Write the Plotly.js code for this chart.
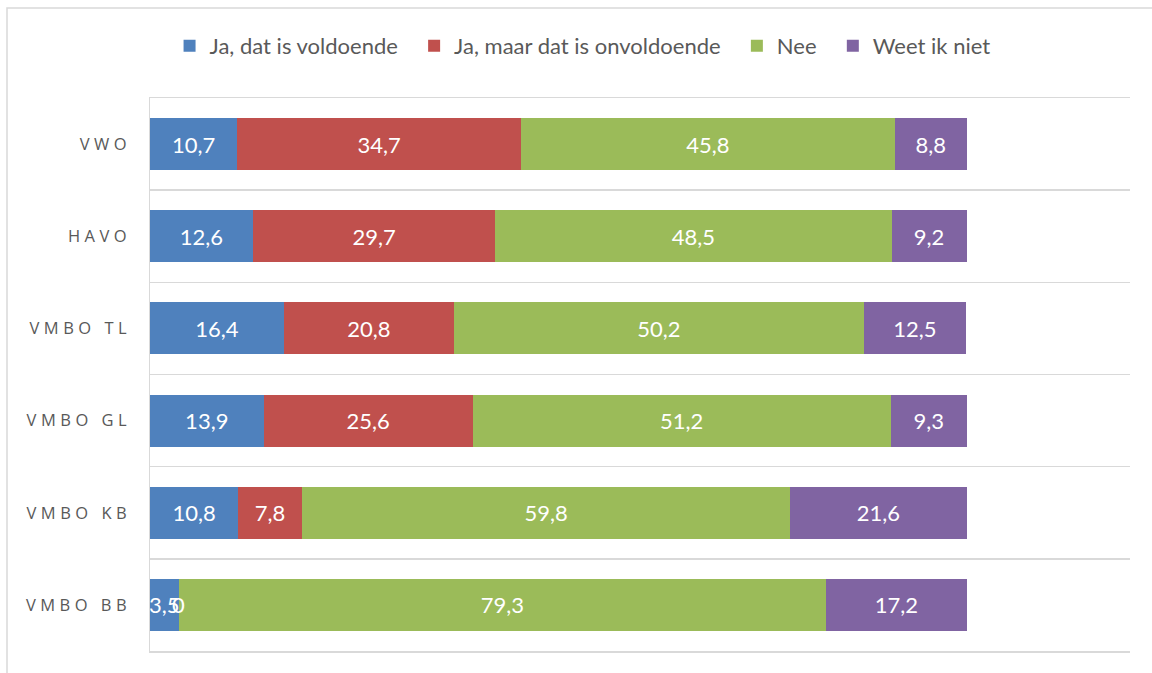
<!DOCTYPE html>
<html>
<head>
<meta charset="utf-8">
<script src="https://cdn.plot.ly/plotly-3.0.1.min.js"></script>
<style>
html,body{margin:0;padding:0;background:#fff;}
#chart{width:1152px;height:673px;}
.ytick text{letter-spacing:4.5px;}
</style>
</head>
<body>
<div id="chart"></div>
<script>
const categories = ["VWO", "HAVO", "VMBO TL", "VMBO GL", "VMBO KB", "VMBO BB"];
const seriesNames = ["Ja, dat is voldoende", "Ja, maar dat is onvoldoende", "Nee", "Weet ik niet"];
const jaVoldoende = [10.7, 12.6, 16.4, 13.9, 10.8, 3.5];
const jaOnvoldoende = [34.7, 29.7, 20.8, 25.6, 7.8, 0];
const nee = [45.8, 48.5, 50.2, 51.2, 59.8, 79.3];
const weetIkNiet = [8.8, 9.2, 12.5, 9.3, 21.6, 17.2];
const colors = ["#4F81BD", "#C0504D", "#9BBB59", "#8064A2"];

const allSeries = [jaVoldoende, jaOnvoldoende, nee, weetIkNiet];
const fontFam = "Lato, 'Open Sans', sans-serif";
const fmt = v => v === 0 ? "0" : v.toFixed(1).replace(".", ",");

const traces = allSeries.map((vals, i) => ({
  type: "bar",
  orientation: "h",
  name: seriesNames[i] + "\u00a0\u00a0",
  y: categories,
  x: vals,
  marker: {color: colors[i], line: {width: 0}},
  text: vals.map(v => v === 0 ? "" : fmt(v)),
  texttemplate: "%{text}",
  textposition: "inside",
  insidetextanchor: "middle",
  textangle: 0,
  constraintext: "none",
  cliponaxis: false,
  textfont: {color: "#FFFFFF", size: 22, family: fontFam},
  hoverinfo: "skip"
}));

// labels for zero-width segments, placed at their stacked position
const annotations = [];
categories.forEach((c, j) => {
  let cum = 0;
  allSeries.forEach(vals => {
    if (vals[j] === 0) {
      annotations.push({
        x: cum, y: c, xref: "x", yref: "y",
        text: fmt(vals[j]), showarrow: false,
        font: {color: "#FFFFFF", size: 22, family: fontFam}
      });
    }
    cum += vals[j];
  });
});

const layout = {
  width: 1152,
  height: 673,
  barmode: "stack",
  bargap: 0.435,
  margin: {l: 150, r: 22, t: 98, b: 22},
  paper_bgcolor: "#FFFFFF",
  plot_bgcolor: "#FFFFFF",
  font: {family: fontFam, color: "#595959"},
  showlegend: true,
  legend: {
    orientation: "h",
    x: 0.447, xanchor: "center",
    y: 1.094, yanchor: "middle",
    font: {size: 22, color: "#595959", family: fontFam},
    itemwidth: 30,
    traceorder: "normal"
  },
  annotations: annotations,
  xaxis: {
    range: [0, 120],
    showgrid: false,
    zeroline: false,
    showticklabels: false,
    showline: true,
    mirror: true,
    linecolor: "#D9D9D9",
    linewidth: 1.5,
    ticks: ""
  },
  yaxis: {
    type: "category",
    autorange: "reversed",
    tickson: "boundaries",
    showgrid: true,
    gridcolor: "#D9D9D9",
    gridwidth: 1.5,
    showline: true,
    linecolor: "#D9D9D9",
    linewidth: 1.5,
    ticks: "",
    ticklabelstandoff: 14,
    tickfont: {size: 16.5, color: "#595959", family: "'Open Sans', sans-serif"},
    zeroline: false
  },
  shapes: [{
    type: "rect",
    xref: "paper", yref: "paper",
    x0: (7 - 150) / 980, x1: 1.2,
    y0: -0.2, y1: (673 - 22 - 8) / 553,
    line: {color: "#D9D9D9", width: 1.5},
    fillcolor: "rgba(0,0,0,0)",
    layer: "below"
  }]
};

Plotly.newPlot("chart", traces, layout, {displayModeBar: false, staticPlot: true});
</script>
</body>
</html>
